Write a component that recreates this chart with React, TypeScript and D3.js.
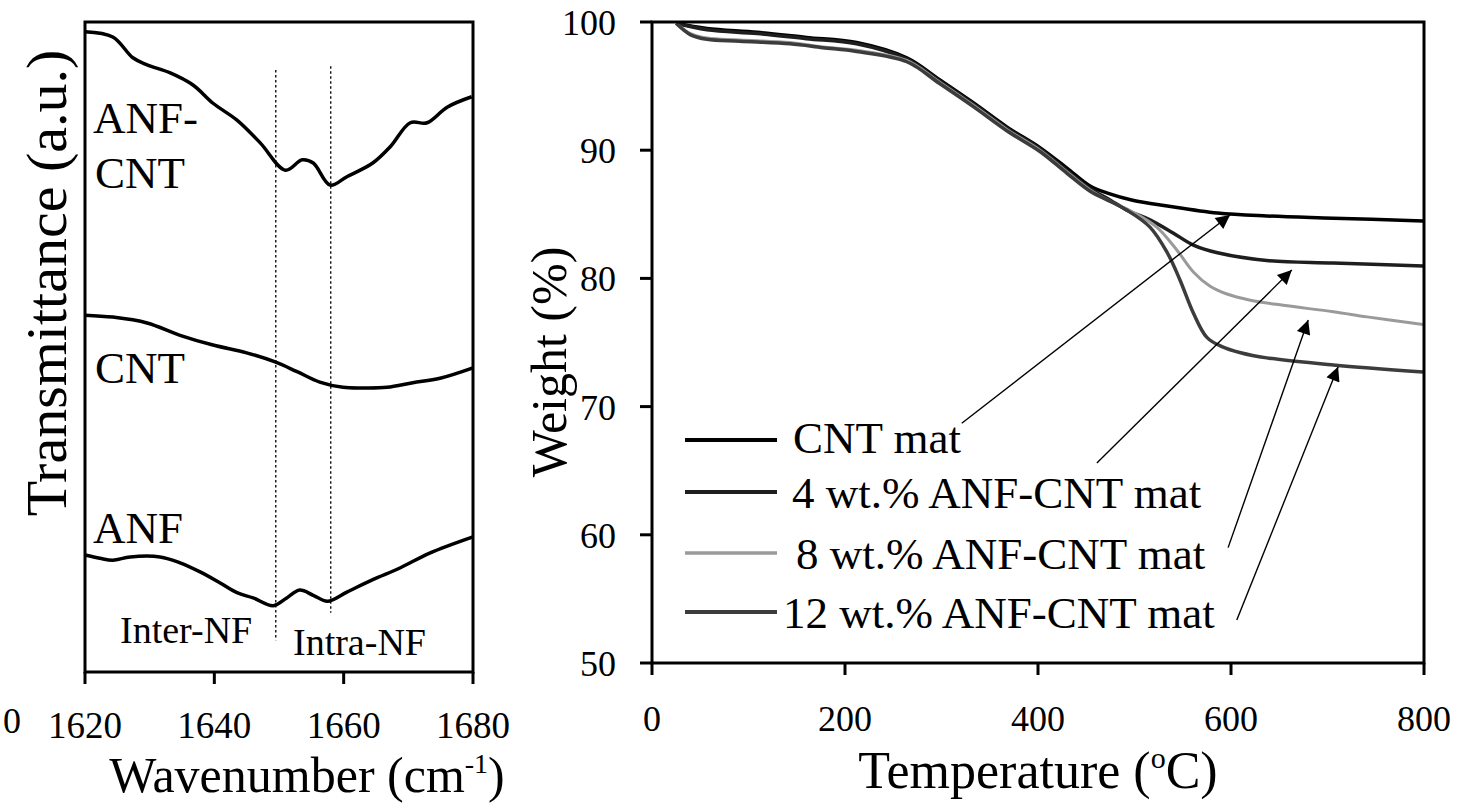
import React from "react";
import * as d3 from "d3";

const FONT = "'Liberation Serif', 'Times New Roman', serif";

// ---------- FTIR panel data ----------
const ftirTicks = [1620, 1640, 1660, 1680];
const ftirLabels = ["ANF-", "CNT"];
const anfCnt: [number, number][] = [
  [1620, 98.5], [1624.3, 97.7], [1627.4, 94.5], [1629.6, 93.4], [1633.1, 92.2],
  [1636.7, 90.3], [1639.8, 87.5], [1643.5, 84.9], [1647.1, 81.4], [1651.0, 77.2],
  [1653.6, 78.8], [1655.3, 78.3], [1657.9, 74.9], [1660.5, 76.2], [1664.5, 78.3],
  [1667.2, 80.8], [1670.3, 84.5], [1672.9, 84.5], [1676.0, 86.9], [1679.8, 88.5],
];
const cnt: [number, number][] = [
  [1620, 54.9], [1624.3, 54.6], [1629.6, 53.7], [1634.7, 51.8], [1639.8, 50.3],
  [1645.0, 49.1], [1649.4, 47.7], [1652.8, 46.2], [1656.3, 44.6], [1659.9, 43.8],
  [1663.0, 43.7], [1666.7, 43.8], [1670.7, 44.5], [1674.9, 45.2], [1680, 46.8],
];
const anf: [number, number][] = [
  [1620, 18.0], [1622.3, 17.5], [1624.3, 17.2], [1627.0, 17.7], [1631.6, 17.7],
  [1634.7, 16.8], [1637.8, 15.4], [1640.9, 13.7], [1643.5, 12.2], [1646.0, 11.4],
  [1649.1, 10.2], [1651.2, 11.4], [1653.2, 12.6], [1655.3, 11.8], [1657.5, 10.9],
  [1660.5, 12.3], [1664.5, 14.2], [1668.7, 16.0], [1673.3, 18.3], [1680, 20.8],
];
// dashed band markers: [wavenumber, top value, bottom value]
const bandLines: [number, number, number][] = [
  [1649.5, 92.6, 4.9],
  [1658, 93.2, 9.1],
];

// ---------- TGA panel data ----------
const tgaXTicks = [0, 200, 400, 600, 800];
const tgaYTicks = [50, 60, 70, 80, 90, 100];
const cntMat: [number, number][] = [
  [25, 99.9], [57, 99.5], [109, 99.2], [160, 98.8], [212, 98.4], [264, 97.2],
  [298, 95.5], [333, 93.7], [368, 91.8], [402, 90.2], [430, 88.6], [454, 87.2],
  [472, 86.65], [498, 86.1], [534, 85.65], [586, 85.1], [637, 84.87], [706, 84.7],
  [799, 84.48],
];
const anf4: [number, number][] = [
  [25, 99.9], [57, 99.4], [109, 99.1], [160, 98.7], [212, 98.3], [264, 97.1],
  [298, 95.4], [333, 93.6], [368, 91.7], [402, 90.1], [430, 88.4], [454, 87.0],
  [475, 86.1], [492, 85.33], [516, 84.56], [540, 83.54], [561, 82.6], [586, 82.0],
  [637, 81.4], [706, 81.2], [799, 80.97],
];
const anf8: [number, number][] = [
  [25, 99.9], [40, 99.1], [57, 98.75], [91, 98.6], [143, 98.4], [177, 98.05],
  [212, 97.8], [264, 97.0], [298, 95.3], [333, 93.5], [368, 91.6], [402, 90.0],
  [430, 88.3], [454, 86.9], [475, 86.0], [498, 85.18], [523, 84.0], [544, 82.2],
  [561, 80.5], [578, 79.4], [595, 78.8], [620, 78.3], [654, 77.9], [706, 77.4],
  [741, 77.0], [799, 76.4],
];
const anf12: [number, number][] = [
  [25, 99.9], [40, 99.0], [57, 98.65], [91, 98.5], [143, 98.3], [177, 98.0],
  [212, 97.7], [264, 96.9], [298, 95.2], [333, 93.4], [368, 91.5], [402, 89.9],
  [430, 88.2], [454, 86.8], [475, 86.0], [492, 85.33], [516, 84.0], [534, 82.0],
  [547, 79.9], [561, 77.3], [575, 75.4], [590, 74.7], [610, 74.2], [637, 73.8],
  [706, 73.25], [799, 72.7],
];
const legendLabels = [
  "CNT mat",
  "4 wt.% ANF-CNT mat",
  "8 wt.% ANF-CNT mat",
  "12 wt.% ANF-CNT mat",
];
// annotation arrows: start (temperature, weight) -> tip (temperature, weight)
const arrowFrom: [number, number][] = [[321, 68.7], [461, 65.6], [597, 59.0], [606, 53.35]];
const arrowTo: [number, number][] = [[599, 84.95], [663, 80.65], [680, 76.75], [711, 73.1]];

const seriesStyles = [
  { color: "#000", width: 3.5 },
  { color: "#1e1e1e", width: 3.5 },
  { color: "#9a9a9a", width: 3 },
  { color: "#3c3c3c", width: 3.5 },
];

export default function App() {
  // FTIR scales
  const xL = d3.scaleLinear().domain([1620, 1680]).range([85, 473]);
  const yL = d3.scaleLinear().domain([0, 100]).range([672, 22]);
  const lineL = d3
    .line<[number, number]>()
    .x((d) => xL(d[0]))
    .y((d) => yL(d[1]))
    .curve(d3.curveCatmullRom.alpha(0.5));

  // TGA scales
  const xR = d3.scaleLinear().domain([0, 800]).range([652, 1424]);
  const yR = d3.scaleLinear().domain([50, 100]).range([663, 22]);
  const lineR = d3
    .line<[number, number]>()
    .x((d) => xR(d[0]))
    .y((d) => yR(d[1]))
    .curve(d3.curveCatmullRom.alpha(0.5));

  const tga = [cntMat, anf4, anf8, anf12];
  const legendY = [440, 492, 553, 612];
  const legendTextX = [793, 792, 796, 783];

  return (
    <div style={{ position: "absolute", left: 0, top: 0 }}>
      <svg width={1460} height={810} style={{ display: "block", background: "#fff" }} fontFamily={FONT}>
        <defs>
          <marker id="ah" viewBox="0 0 10 10" refX="10" refY="5" markerWidth="20" markerHeight="14"
            markerUnits="userSpaceOnUse" orient="auto">
            <path d="M0,0 L10,5 L0,10 z" fill="#000" />
          </marker>
        </defs>

        {/* ===== Left FTIR panel ===== */}
        {bandLines.map(([w, t, b], i) => (
          <line key={"bl" + i} x1={xL(w)} x2={xL(w)} y1={yL(t)} y2={yL(b)}
            stroke="#111" strokeWidth={1.4} strokeDasharray="2.5,2.5" />
        ))}
        {[anfCnt, cnt, anf].map((s, i) => (
          <path key={"f" + i} d={lineL(s) || ""} fill="none" stroke="#000" strokeWidth={3.5} strokeLinejoin="round" />
        ))}
        <rect x={xL(1620)} y={yL(100)} width={xL(1680) - xL(1620)} height={yL(0) - yL(100)}
          fill="none" stroke="#000" strokeWidth={3} />
        {ftirTicks.map((t) => (
          <g key={"ft" + t}>
            <line x1={xL(t)} x2={xL(t)} y1={yL(0)} y2={yL(0) + 12} stroke="#000" strokeWidth={3} />
            <text x={xL(t)} y={738} fontSize={37} textAnchor="middle">{t}</text>
          </g>
        ))}
        <text x={12} y={733} fontSize={36} textAnchor="middle">0</text>
        <text x={93} y={133} fontSize={45}>{ftirLabels[0]}</text>
        <text x={95} y={188} fontSize={45}>{ftirLabels[1]}</text>
        <text x={95} y={383} fontSize={45}>CNT</text>
        <text x={93} y={543} fontSize={45}>ANF</text>
        <text x={120} y={643} fontSize={38}>Inter-NF</text>
        <text x={293} y={655} fontSize={38}>Intra-NF</text>
        <text transform="translate(66,283) rotate(-90)" fontSize={58} textAnchor="middle">Transmittance (a.u.)</text>
        <text x={307} y={792} fontSize={50} textAnchor="middle">
          Wavenumber (cm<tspan fontSize={28} dy={-19}>-1</tspan><tspan dy={19}>)</tspan>
        </text>

        {/* ===== Right TGA panel ===== */}
        {tga.map((s, i) => (
          <path key={"t" + i} d={lineR(s) || ""} fill="none" stroke={seriesStyles[i].color}
            strokeWidth={seriesStyles[i].width} strokeLinejoin="round" />
        ))}
        {arrowFrom.map((f, i) => (
          <line key={"ar" + i} x1={xR(f[0])} y1={yR(f[1])} x2={xR(arrowTo[i][0])} y2={yR(arrowTo[i][1])}
            stroke="#000" strokeWidth={1.4} markerEnd="url(#ah)" />
        ))}
        {legendLabels.map((l, i) => (
          <g key={"lg" + i}>
            <line x1={685} x2={777} y1={legendY[i]} y2={legendY[i]} stroke={seriesStyles[i].color}
              strokeWidth={seriesStyles[i].width + 0.5} />
            <text x={legendTextX[i]} y={legendY[i] + (i === 0 ? 13 : 16)} fontSize={45}>{l}</text>
          </g>
        ))}
        <rect x={xR(0)} y={yR(100)} width={xR(800) - xR(0)} height={yR(50) - yR(100)}
          fill="none" stroke="#000" strokeWidth={3} />
        {tgaYTicks.map((t) => (
          <g key={"ty" + t}>
            <line x1={xR(0) - 12} x2={xR(0)} y1={yR(t)} y2={yR(t)} stroke="#000" strokeWidth={3} />
            <text x={616} y={yR(t) + 13} fontSize={36} textAnchor="end">{t}</text>
          </g>
        ))}
        {tgaXTicks.map((t) => (
          <g key={"tx" + t}>
            <line x1={xR(t)} x2={xR(t)} y1={yR(50)} y2={yR(50) + 12} stroke="#000" strokeWidth={3} />
            <text x={xR(t)} y={731} fontSize={36} textAnchor="middle">{t}</text>
          </g>
        ))}
        <text transform="translate(566,362) rotate(-90)" fontSize={50} textAnchor="middle">Weight (%)</text>
        <text x={1038} y={788} fontSize={52} textAnchor="middle">
          Temperature (<tspan fontSize={30} dy={-20}>o</tspan><tspan dy={20}>C)</tspan>
        </text>
      </svg>
    </div>
  );
}
